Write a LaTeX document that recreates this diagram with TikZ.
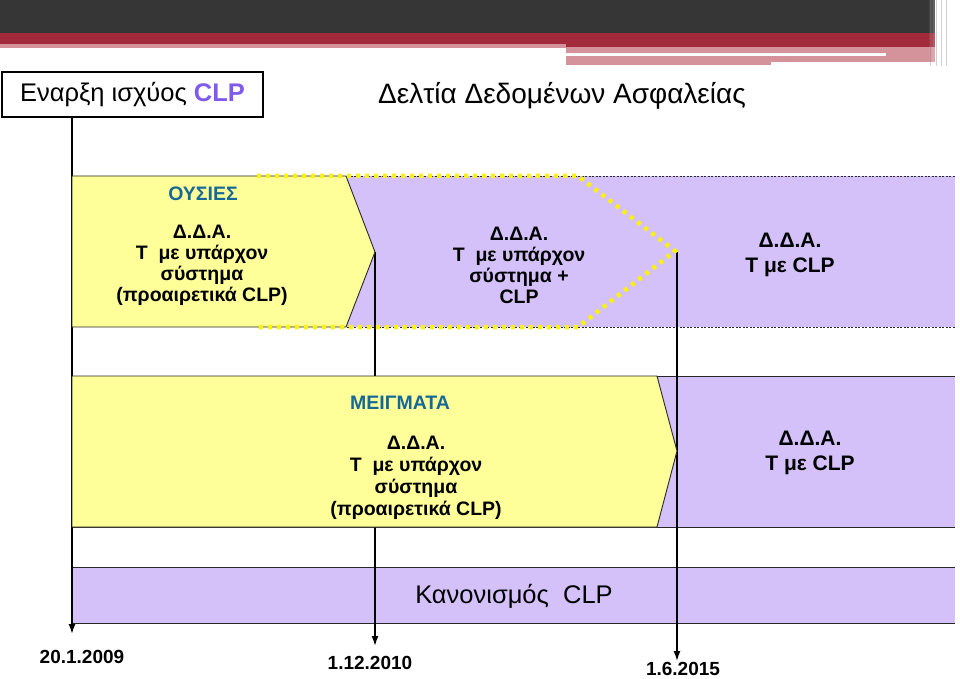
\documentclass[tikz,border=0pt]{standalone}
\usepackage{fontspec}
\setmainfont{Liberation Sans}
\usetikzlibrary{arrows.meta}
\definecolor{darkbar}{RGB}{54,54,54}
\definecolor{redbar}{RGB}{163,42,58}
\definecolor{pinkbar}{RGB}{212,146,154}
\definecolor{lemon}{RGB}{255,255,153}
\definecolor{lav}{RGB}{212,193,250}
\definecolor{headblue}{RGB}{22,104,150}
\definecolor{clpviolet}{RGB}{128,90,235}
\definecolor{dotyellow}{RGB}{250,240,20}
\definecolor{edge}{RGB}{40,40,40}
\tikzset{
  chevron/.style={fill=lemon,draw=edge,line width=0.9pt},
  rowline/.style={draw=edge,line width=0.9pt},
  dashline/.style={draw=edge,line width=0.8pt,dash pattern=on 2pt off 1.5pt},
  yellowdots/.style={draw=dotyellow,line width=4.5pt,dash pattern=on 4pt off 5pt},
  vline/.style={draw=black,line width=1.5pt},
  arr/.style={vline,-{Latex[length=10pt,width=7pt]}},
  boxtxt/.style={font=\bfseries\fontsize{19.5}{21}\selectfont,align=center,inner sep=0pt},
  bigtxt/.style={font=\bfseries\fontsize{21}{25}\selectfont,align=center,inner sep=0pt},
  headtxt/.style={font=\bfseries\fontsize{19.5}{22}\selectfont,text=headblue,inner sep=0pt},
  datetxt/.style={font=\bfseries\fontsize{19}{22}\selectfont,inner sep=0pt},
}
\begin{document}
\begin{tikzpicture}[x=1pt,y=-1pt]
\useasboundingbox (0,0) rectangle (960,679);
% header bars
\fill[darkbar] (0,0) rectangle (935,33);
\fill[redbar] (0,33) rectangle (935,44);
\fill[redbar] (566,44) rectangle (935,47);
\fill[pinkbar] (0,44) rectangle (566,48);
\fill[pinkbar] (566,47) rectangle (935,62);
\fill[pinkbar] (566,62) rectangle (771,65);
\fill[white] (566,53) rectangle (886,56);
\foreach \i in {0,...,14} {
  \pgfmathsetmacro{\op}{\i/14}
  \fill[white,opacity=\op] (927+2*\i,0) rectangle (929+2*\i,66);
}
\foreach \xx in {930,936,941,946} {
  \fill[gray,opacity=0.35] (\xx,0) rectangle (\xx+0.8,66);
}
\fill[white] (957,0) rectangle (960,70);

% start box and title
\node[draw=black,line width=2pt,minimum width=261pt,minimum height=45pt,inner sep=0pt,
      font=\fontsize{25.5}{28}\selectfont] (start) at (132.5,94.5)
      {Εναρξη ισχύος \textcolor{clpviolet}{\bfseries CLP}};
\node[font=\fontsize{28}{31}\selectfont,inner sep=0pt] (title) at (562,96) {Δελτία Δεδομένων Ασφαλείας};

% row 1 background
\fill[lav] (347,176) rectangle (955,327);
\draw[dashline] (347,176) -- (955,176);
\draw[dashline] (347,327) -- (955,327);
% row 2 background
\fill[lav] (657,376) rectangle (955,527);
\draw[rowline] (72,376) -- (955,376);
\draw[rowline] (72,527) -- (955,527);
% row 3 band
\fill[lav] (72,567) rectangle (955,623);
\draw[rowline] (72,567) -- (955,567);
\draw[rowline] (72,623) -- (955,623);

% date labels
\node[datetxt] (d1) at (82,657) {20.1.2009};
\node[datetxt] (d2) at (370,663) {1.12.2010};
\node[datetxt] (d3) at (683,669) {1.6.2015};

% timeline connectors
\coordinate (s1) at (72,117);
\coordinate (e1) at (72,634);
\coordinate (s2) at (375,252);
\coordinate (e2) at (375,646);
\coordinate (s3) at (677,252);
\coordinate (e3) at (677,661);
\draw[arr] (s1) -- (e1);
\draw[arr] (s2) -- (e2);
\draw[arr] (s3) -- (e3);

% yellow chevrons
\path[chevron] (72,176) -- (346,176) -- (375,252) -- (346,327) -- (72,327) -- cycle;
\path[chevron] (72,376) -- (657,376) -- (677,451) -- (657,527) -- (72,527) -- cycle;
\draw[vline] (s3) -- (677,380);

% yellow dotted transition outline
\draw[yellowdots] (257,176) -- (578,176) -- (675,251) -- (578,327) -- (257,327);

% texts row 1
\node[headtxt] (subst) at (203,194) {ΟΥΣΙΕΣ};
\node[boxtxt] (r1a) at (202,265) {Δ.Δ.Α.\\Τ\ \ με υπάρχον\\σύστημα\\(προαιρετικά CLP)};
\node[boxtxt] (r1b) at (519,265) {Δ.Δ.Α.\\Τ\ \ με υπάρχον\\σύστημα +\\CLP};
\node[bigtxt] (r1c) at (790,255) {Δ.Δ.Α.\\Τ με CLP};
% texts row 2
\node[headtxt] (mix) at (400,403) {ΜΕΙΓΜΑΤΑ};
\node[boxtxt,font=\bfseries\fontsize{19.5}{22}\selectfont] (r2a) at (416,478) {Δ.Δ.Α.\\Τ\ \ με υπάρχον\\σύστημα\\(προαιρετικά CLP)};
\node[bigtxt] (r2b) at (810,453) {Δ.Δ.Α.\\Τ με CLP};
% row 3 text
\node[font=\fontsize{25.5}{28}\selectfont,inner sep=0pt] (reg) at (514,596) {Κανονισμός\ \ CLP};
\end{tikzpicture}
\end{document}
